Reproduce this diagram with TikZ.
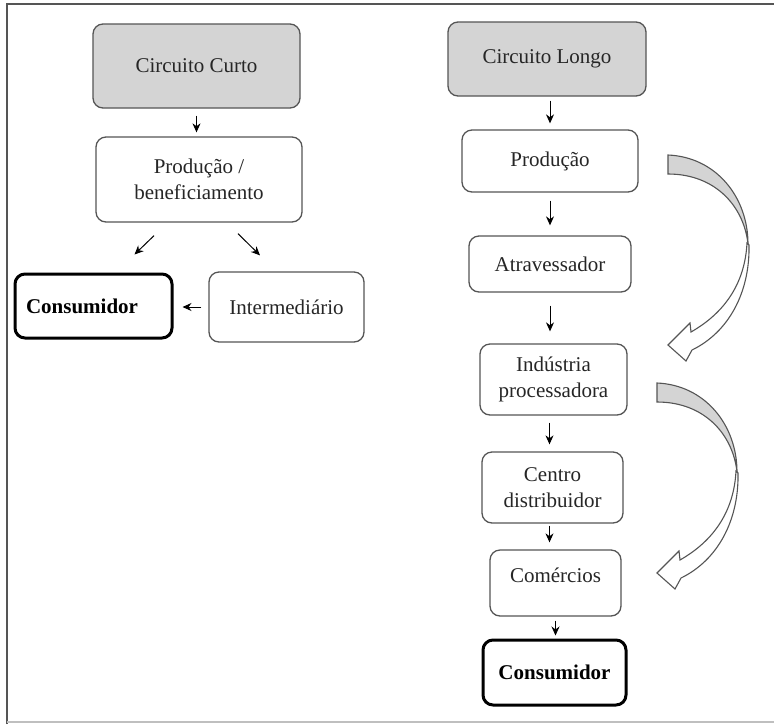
\documentclass[tikz,border=0pt]{standalone}
\usepackage{fontspec}
\setmainfont{Liberation Serif}
\usetikzlibrary{arrows.meta}
\definecolor{boxline}{HTML}{555555}
\definecolor{boxgray}{HTML}{D4D4D4}
\definecolor{txt}{HTML}{262626}
\tikzset{
  box/.style={draw=boxline, line width=1.3pt, rounded corners=10pt, fill=white,
    align=center, text=txt, inner sep=2pt,
    font=\fontsize{21}{26}\selectfont},
  headbox/.style={box, fill=boxgray},
  endbox/.style={box, draw=black, line width=3pt, text=black,
    font=\fontsize{21}{26}\selectfont\bfseries},
  conn/.style={line width=1pt, -{Stealth[length=9pt,width=8pt]}},
  curvarr/.pic={
    \filldraw[fill=boxgray, draw=boxline, line width=1.1pt]
      (0,0) .. controls (48,2) and (80,42) .. (80,89)
      .. controls (76,52) and (48,19) .. (0,19) -- cycle;
    \filldraw[fill=white, draw=boxline, line width=1.1pt]
      (79,88) .. controls (77,127) and (58,157) .. (23,177)
      -- (22,168) -- (0,190) -- (18,206) -- (24,195)
      .. controls (61,177) and (82,137) .. (81,90) -- cycle;
  }
}
\begin{document}
\begin{tikzpicture}[x=1pt,y=-1pt]
\useasboundingbox (0,0) rectangle (774,724);
\fill[white] (0,0) rectangle (774,724);
% frame
\draw[draw=boxline, line width=1.5pt] (7,724) -- (7,4) -- (774,4);
\draw[draw=black!25, line width=1.5pt] (7,722) -- (774,722);

% left column
\node[headbox, minimum width=207pt, minimum height=84pt] (curto) at (196.5,66) {Circuito Curto};
\node[box, minimum width=206pt, minimum height=85pt] (prodL) at (199,179.5) {Produção /\\beneficiamento};
\node[endbox, minimum width=157pt, minimum height=64pt, text width=135pt, align=left] (consL) at (93.5,306) {Consumidor};
\node[box, minimum width=155pt, minimum height=70pt] (inter) at (286.5,307) {Intermediário};

\draw[conn, shorten <=7pt, shorten >=4pt] (curto.south) -- (curto.south |- prodL.north);
\draw[conn] ([shift={(-45,13)}]prodL.south) -- ([shift={(41,-18)}]consL.north);
\draw[conn] ([shift={(39,11)}]prodL.south) -- ([shift={(-26.5,-16)}]inter.north);
\draw[conn, shorten <=7pt, shorten >=9pt] (inter.west) -- (inter.west -| consL.east);

% right column
\node[headbox, minimum width=198pt, minimum height=74pt] (longo) at (547,59) {Circuito Longo};
\node[box, minimum width=176pt, minimum height=62pt] (prodR) at (550,161) {Produção};
\node[box, minimum width=162pt, minimum height=56pt] (atrav) at (550,264) {Atravessador};
\node[box, minimum width=147pt, minimum height=71pt] (ind) at (553.5,379.5) {Indústria\\processadora};
\node[box, minimum width=141pt, minimum height=71pt] (centro) at (552.5,487.5) {Centro\\distribuidor};
\node[box, minimum width=131pt, minimum height=66pt, text depth=16pt] (com) at (555.5,583) {Comércios};
\node[endbox, minimum width=143pt, minimum height=65pt] (consR) at (554.5,672.5) {Consumidor};

\draw[conn, shorten <=4pt, shorten >=6pt] (longo.south -| prodR.south) -- (prodR.north);
\draw[conn, shorten <=8pt, shorten >=10pt] (prodR.south) -- (prodR.south |- atrav.north);
\draw[conn, shorten <=13pt, shorten >=12pt] (atrav.south) -- (atrav.south |- ind.north);
\draw[conn, shorten <=7pt, shorten >=7pt] ([xshift=-4pt]ind.south) -- ([xshift=-4pt]ind.south |- centro.north);
\draw[conn, shorten <=2pt, shorten >=7pt] ([xshift=-3pt]centro.south) -- ([xshift=-3pt]centro.south |- com.north);
\draw[conn, shorten <=4pt, shorten >=3pt] (com.south) -- (com.south |- consR.north);

% curved block arrows
\pic at (668,155) {curvarr};
\pic at (657,383) {curvarr};
\end{tikzpicture}
\end{document}
